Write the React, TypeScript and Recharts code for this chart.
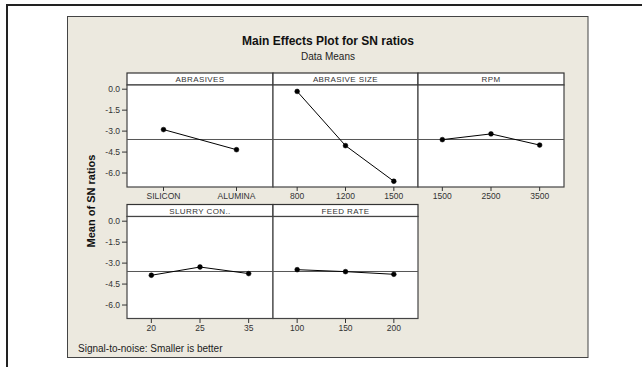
import React from "react";
import { LineChart, Line, XAxis, YAxis, ReferenceLine } from "recharts";

// factor levels and mean SN ratios
const abrasiveLevels = ["SILICON", "ALUMINA"];
const abrasiveMeans = [-2.89, -4.33];

const sizeLevels = ["800", "1200", "1500"];
const sizeMeans = [-0.16, -4.04, -6.59];

const rpmLevels = ["1500", "2500", "3500"];
const rpmMeans = [-3.61, -3.2, -4.0];

const slurryLevels = ["20", "25", "35"];
const slurryMeans = [-3.87, -3.28, -3.75];

const feedLevels = ["100", "150", "200"];
const feedMeans = [-3.47, -3.61, -3.8];

const grandMean = -3.6;
const yTicks = [0, -1.5, -3, -4.5, -6];

const panels = [
  { title: "ABRASIVES", levels: abrasiveLevels, means: abrasiveMeans, col: 0, row: 0 },
  { title: "ABRASIVE SIZE", levels: sizeLevels, means: sizeMeans, col: 1, row: 0 },
  { title: "RPM", levels: rpmLevels, means: rpmMeans, col: 2, row: 0 },
  { title: "SLURRY CON..", levels: slurryLevels, means: slurryMeans, col: 0, row: 1 },
  { title: "FEED RATE", levels: feedLevels, means: feedMeans, col: 1, row: 1 },
];

// layout
const COL_X = [127, 273, 418];
const COL_W = [146, 145, 146];
const ROW_Y = [85, 216.5];
const PLOT_H = 102;
const STRIP_H = 12;
const Y_AXIS_W = 40;
const X_AXIS_H = 22;
const FONT = "'Liberation Sans', Arial, sans-serif";
const BEIGE = "#ECE9DF";

type PanelProps = {
  title: string;
  levels: string[];
  means: number[];
  col: number;
  row: number;
};

function EffectPanel({ levels, means, col, row }: PanelProps) {
  const data = levels.map((level, i) => ({ level, mean: means[i] }));
  const showY = col === 0;
  const yw = showY ? Y_AXIS_W : 0;
  const w = COL_W[col] + yw;
  const h = PLOT_H + X_AXIS_H;

  return (
    <div
      style={{
        position: "absolute",
        left: COL_X[col] - yw,
        top: ROW_Y[row],
        width: w,
        height: h,
      }}
    >
      <LineChart
        width={w}
        height={h}
        data={data}
        margin={{ top: 0, right: 0, bottom: 0, left: 0 }}
        style={{ overflow: "visible" }}
      >
        <XAxis
          dataKey="level"
          scale="band"
          interval={0}
          height={X_AXIS_H}
          axisLine={false}
          tickSize={4}
          tickMargin={2}
          tickLine={{ stroke: "#333" }}
          tick={{ fontSize: 8.5, fill: "#333", fontFamily: FONT }}
        />
        <YAxis
          hide={!showY}
          width={yw}
          domain={[-7, 0.3]}
          ticks={yTicks}
          interval={0}
          allowDataOverflow
          axisLine={false}
          tickSize={5}
          tickMargin={2}
          tickLine={{ stroke: "#333" }}
          tick={{ fontSize: 8.5, fill: "#333", fontFamily: FONT }}
          tickFormatter={(v: number) => v.toFixed(1)}
        />
        <ReferenceLine y={grandMean} stroke="#555" strokeWidth={1} />
        <Line
          dataKey="mean"
          stroke="#000"
          strokeWidth={1}
          dot={{ r: 2.4, fill: "#000", stroke: "#000", strokeWidth: 0.5 }}
          isAnimationActive={false}
        />
      </LineChart>
    </div>
  );
}

export default function App() {
  return (
    <div
      style={{
        position: "absolute",
        left: 0,
        top: 0,
        width: 642,
        height: 367,
        background: "#fff",
        overflow: "hidden",
        fontFamily: FONT,
      }}
    >
      <svg width={642} height={367} style={{ position: "absolute", left: 0, top: 0 }}>
        {/* outer frame */}
        <line x1={6} y1={5} x2={642} y2={5} stroke="#222" strokeWidth={2} />
        <line x1={7} y1={4} x2={7} y2={367} stroke="#222" strokeWidth={2} />
        {/* beige panel */}
        <rect x={67.5} y={16.5} width={520.5} height={341} fill={BEIGE} stroke="#444" strokeWidth={1} />
        <text x={328} y={45} textAnchor="middle" fontSize={12} fontWeight="bold" fill="#111">
          Main Effects Plot for SN ratios
        </text>
        <text x={328} y={60} textAnchor="middle" fontSize={10} fill="#222">
          Data Means
        </text>
        <text
          x={0}
          y={0}
          transform="translate(95 201) rotate(-90)"
          textAnchor="middle"
          fontSize={11}
          fontWeight="bold"
          fill="#111"
        >
          Mean of SN ratios
        </text>
        <text x={78} y={352} fontSize={10} fill="#222">
          Signal-to-noise: Smaller is better
        </text>
        {panels.map((p) => {
          const x = COL_X[p.col];
          const y = ROW_Y[p.row];
          const w = COL_W[p.col];
          return (
            <g key={p.title}>
              <rect x={x} y={y - STRIP_H} width={w} height={STRIP_H} fill="#fff" stroke="#333" strokeWidth={1.2} />
              <text
                x={x + w / 2}
                y={y - 3}
                textAnchor="middle"
                fontSize={8}
                letterSpacing={0.4}
                fill="#333"
              >
                {p.title}
              </text>
              <rect x={x} y={y} width={w} height={PLOT_H} fill="#fff" stroke="#444" strokeWidth={1.2} />
            </g>
          );
        })}
      </svg>
      {panels.map((p) => (
        <EffectPanel key={p.title} {...p} />
      ))}
    </div>
  );
}
